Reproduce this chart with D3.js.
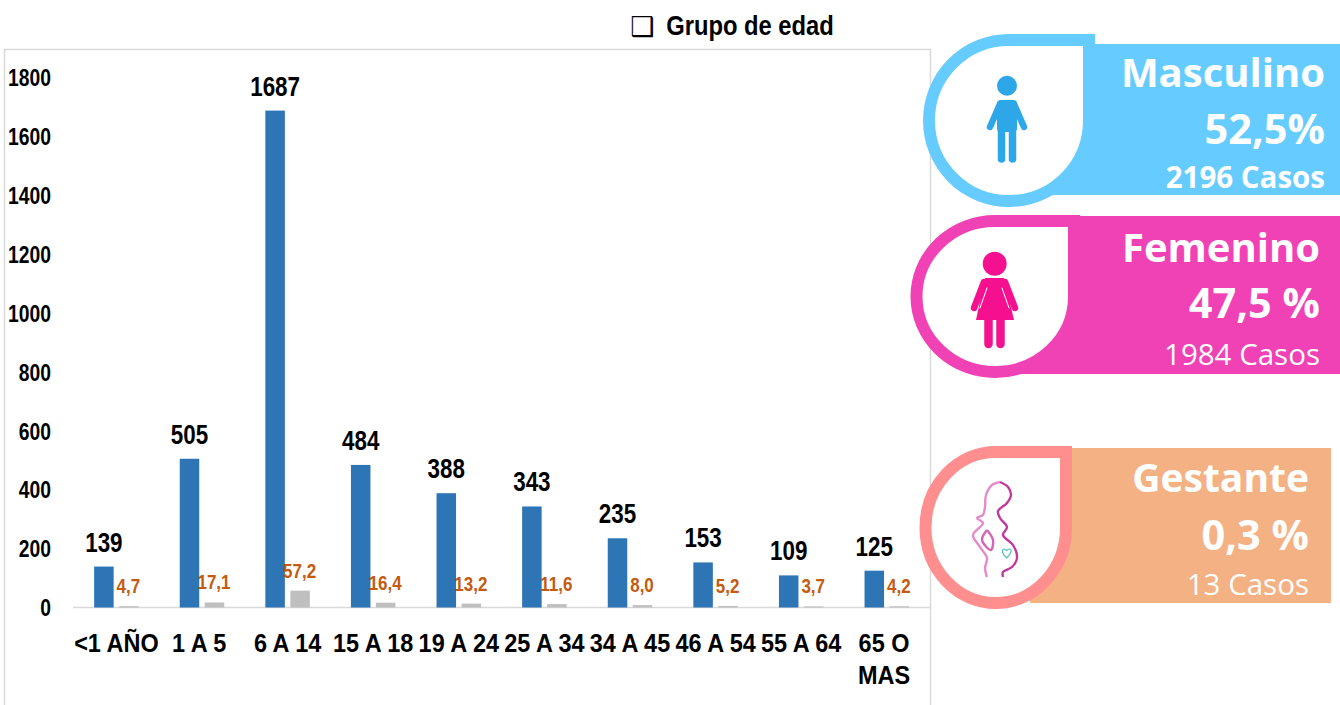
<!DOCTYPE html>
<html>
<head>
<meta charset="utf-8">
<script src="https://d3js.org/d3.v7.min.js"></script>
<style>
  body { margin: 0; background: #fff; }
  svg { display: block; }
  text { font-family: "Liberation Sans", Arial, sans-serif; font-weight: bold; }
  .card text { font-family: "Open Sans", sans-serif; fill: #fff; text-anchor: end; }
</style>
</head>
<body>
<svg width="1340" height="705"></svg>
<script>
var ageGroups = ["<1 AÑO", "1 A 5", "6 A 14", "15 A 18", "19 A 24", "25 A 34", "34 A 45", "46 A 54", "55 A 64", "65 O MAS"];
var cases = [139, 505, 1687, 484, 388, 343, 235, 153, 109, 125];
var percents = [4.7, 17.1, 57.2, 16.4, 13.2, 11.6, 8.0, 5.2, 3.7, 4.2];
var yTicks = [0, 200, 400, 600, 800, 1000, 1200, 1400, 1600, 1800];

var cardTitles = ["Masculino", "Femenino", "Gestante"];
var cardPercents = ["52,5%", "47,5 %", "0,3 %"];
var cardCases = ["2196 Casos", "1984 Casos", "13 Casos"];

var svg = d3.select("svg");
var commaFormat = d3.format(".1f");

// plot frame runs off the bottom of the page
svg.append("rect")
    .attr("x", 4.5).attr("y", 49.5)
    .attr("width", 926).attr("height", 700)
    .attr("fill", "none").attr("stroke", "#d9d9d9").attr("stroke-width", 1.5);

var x = d3.scaleBand().domain(ageGroups).range([73.6, 929.6]).paddingInner(0.48).paddingOuter(0.24);
var xSeries = d3.scaleBand().domain(["cases", "percent"]).range([0, x.bandwidth()]).paddingInner(0.22);
var y = d3.scaleLinear().domain([0, 1800]).range([607.5, 77.3]);

var yAxis = svg.append("g")
    .attr("transform", "translate(51,0)")
    .call(d3.axisLeft(y).tickValues(yTicks).tickFormat(d3.format("d")).tickSize(0).tickPadding(0));
yAxis.select(".domain").remove();
yAxis.selectAll("text")
    .attr("font-size", 23).attr("fill", "#000")
    .attr("font-family", "Liberation Sans").attr("font-weight", "bold")
    .attr("transform", "scale(0.84,1)")
    .attr("x", 0).attr("dy", "0.36em");

var xAxis = svg.append("g")
    .attr("transform", "translate(0,607.5)")
    .call(d3.axisBottom(x).tickSize(0).tickPadding(0));
xAxis.select(".domain").attr("stroke", "#d9d9d9").attr("stroke-width", 1.5)
    .attr("d", "M73,0H930");
xAxis.selectAll("text")
    .attr("font-size", 25.5).attr("fill", "#000")
    .attr("font-family", "Liberation Sans").attr("font-weight", "bold")
    .attr("transform", "scale(0.92,1)")
    .attr("y", 45).attr("dy", 0)
    .each(function(d) {
      if (d != "65 O MAS") return;
      var t = d3.select(this).text(null);
      t.append("tspan").attr("x", -3).text("65 O");
      t.append("tspan").attr("x", -3).attr("dy", 32).text("MAS");
    });
// this label sits a little left of its band in the picture
xAxis.selectAll("text").filter(function(d) { return d == "1 A 5"; }).attr("x", -3);

var group = svg.selectAll(".group")
  .data(ageGroups)
  .enter().append("g")
    .attr("class", "group")
    .attr("transform", function(d) { return "translate(" + x(d) + ",0)"; });

group.append("rect")
    .attr("x", xSeries("cases"))
    .attr("y", function(d, i) { return y(cases[i]); })
    .attr("width", xSeries.bandwidth())
    .attr("height", function(d, i) { return y(0) - y(cases[i]); })
    .attr("fill", "#2e75b6");

group.append("rect")
    .attr("x", xSeries("percent"))
    .attr("y", function(d, i) { return y(percents[i]); })
    .attr("width", xSeries.bandwidth())
    .attr("height", function(d, i) { return y(0) - y(percents[i]); })
    .attr("fill", "#bfbfbf");

// squeezed text, the picture was stretched when it was pasted
function squeezed(sel, sx, px, py) {
  sel.attr("text-anchor", "middle")
     .attr("transform", function(d, i) { return "translate(" + px(d, i) + "," + py(d, i) + ") scale(" + sx + ",1)"; });
}

group.append("text")
    .attr("font-size", 27).attr("fill", "#000")
    .text(function(d, i) { return cases[i]; })
    .call(squeezed, 0.83,
      function() { return xSeries("cases") + xSeries.bandwidth() / 2; },
      function(d, i) { return y(cases[i]) - 15; });

group.append("text")
    .attr("font-size", 21).attr("fill", "#c55a11")
    .text(function(d, i) { return commaFormat(percents[i]).replace(".", ","); })
    .call(squeezed, 0.81,
      function() { return xSeries("percent") + xSeries.bandwidth() / 2 - 0.5; },
      function(d, i) { return y(percents[i]) - 13; });

// title
svg.append("text")
    .attr("x", 642).attr("y", 36)
    .attr("text-anchor", "middle")
    .attr("font-size", 27).attr("fill", "#000")
    .style("font-family", "DejaVu Sans")
    .text("❑");
svg.append("text")
    .attr("font-size", 27).attr("fill", "#000")
    .text("Grupo de edad")
    .call(squeezed, 0.88, function() { return 750; }, function() { return 35; });

// cards: coloured panel with a white drop on its left
var cardStyle = [
  {color: "#66ccff", ring: "#66ccff", panel: [1050, 44, 1340, 195], drop: [929, 40, 1089, 201], textX: 1325, base: [87, 144, 188], weight: 700},
  {color: "#f041b5", ring: "#f041b5", panel: [1000, 216, 1340, 374], drop: [916.5, 221, 1074, 372], textX: 1320, base: [262, 318, 365], weight: 400},
  {color: "#f4b183", ring: "#ff8f8f", panel: [1030, 448, 1331, 603], drop: [925.5, 452, 1066, 603], textX: 1309, base: [492, 550, 595], weight: 400}
];

function dropPath(b) {
  var rx = (b[2] - b[0]) / 2, ry = (b[3] - b[1]) / 2;
  return "M" + b[2] + "," + b[1] +
    "V" + (b[1] + ry) +
    "A" + rx + "," + ry + " 0 1 1 " + (b[0] + rx) + "," + b[1] + "Z";
}

var card = svg.selectAll(".card")
  .data(cardStyle)
  .enter().append("g")
    .attr("class", "card");

card.append("rect")
    .attr("x", function(d) { return d.panel[0]; })
    .attr("y", function(d) { return d.panel[1]; })
    .attr("width", function(d) { return d.panel[2] - d.panel[0]; })
    .attr("height", function(d) { return d.panel[3] - d.panel[1]; })
    .attr("fill", function(d) { return d.color; });

card.append("path")
    .attr("d", function(d) { return dropPath(d.drop); })
    .attr("fill", "#fff")
    .attr("stroke", function(d) { return d.ring; })
    .attr("stroke-width", 12);

card.append("text")
    .attr("x", function(d) { return d.textX; })
    .attr("y", function(d) { return d.base[0]; })
    .attr("font-size", function(d, i) { return i == 2 ? 39 : 40; })
    .text(function(d, i) { return cardTitles[i]; });
card.append("text")
    .attr("x", function(d) { return d.textX; })
    .attr("y", function(d) { return d.base[1]; })
    .attr("font-size", 41.5)
    .text(function(d, i) { return cardPercents[i]; });
card.append("text")
    .attr("x", function(d) { return d.textX; })
    .attr("y", function(d) { return d.base[2]; })
    .attr("font-size", 29.5)
    .style("font-weight", function(d) { return d.weight; })
    .text(function(d, i) { return cardCases[i]; });

// boy icon
var boy = svg.append("g").attr("fill", "#2ea7e8").attr("stroke", "#2ea7e8").attr("stroke-linecap", "round");
boy.append("circle").attr("cx", 1007).attr("cy", 85.7).attr("r", 10).attr("stroke", "none");
boy.append("rect").attr("x", 997).attr("y", 100).attr("width", 20).attr("height", 32).attr("rx", 4).attr("stroke", "none");
boy.append("path").attr("d", "M1000,104L990,127M1014,104L1024,127").attr("stroke-width", 6.5);
boy.append("path").attr("d", "M1001.5,125V159M1012.5,125V159").attr("stroke-width", 7.5);

// girl icon
var girl = svg.append("g").attr("fill", "#f5108f").attr("stroke", "#f5108f").attr("stroke-linecap", "round");
girl.append("circle").attr("cx", 994.7).attr("cy", 263.7).attr("r", 12).attr("stroke", "none");
girl.append("path").attr("d", "M985,278H1004L1014,320H976Z").attr("stroke", "none");
girl.append("path").attr("d", "M984,282L974,308M1005,282L1015,308").attr("stroke-width", 6.5);
girl.append("path").attr("d", "M987,288L980,308M1002,288L1009,308").attr("stroke", "#fff").attr("stroke-width", 1);
girl.append("path").attr("d", "M988.5,320V344M1000.5,320V344").attr("stroke-width", 8.5);

// pregnant woman icon
var outline = d3.line().curve(d3.curveCatmullRom);
var mother = svg.append("g").attr("fill", "none").attr("stroke-width", 2.4);
mother.append("path").attr("stroke", "#e58bc9")
    .attr("d", outline([[1000, 482], [992, 485], [986, 495], [985, 507], [983, 515], [977, 518], [983, 523], [973, 535], [980, 547], [987, 558], [985, 568], [987, 577]]));
mother.append("path").attr("stroke", "#c2399e")
    .attr("d", outline([[1000, 482], [1008, 487], [1011, 495], [1007, 503], [998, 511], [1000, 518], [1007, 527], [1003, 535], [1013, 545], [1017, 558], [1012, 567], [1003, 572], [1003, 577]]));
mother.append("path").attr("stroke", "#d566b5")
    .attr("d", outline([[987, 530], [982, 540], [991, 550], [993, 540], [987, 530]]));
mother.append("path").attr("stroke", "#4fc4c4").attr("stroke-width", 1.2)
    .attr("d", "M1006.5,558C1001,553 1002,549 1004,549C1005.5,549 1006.5,550.5 1006.5,551C1006.5,550.5 1008,549 1009.5,549C1012,549 1012,553 1006.5,558Z");
</script>
</body>
</html>
